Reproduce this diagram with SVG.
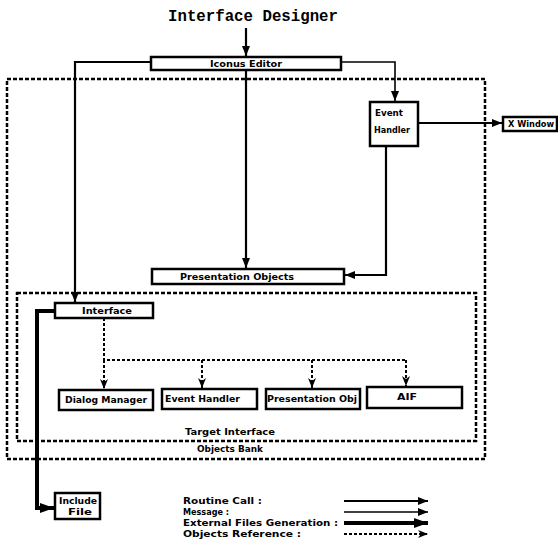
<svg xmlns="http://www.w3.org/2000/svg" width="558" height="553" viewBox="0 0 558 553">
<style>
.box{fill:#fff;stroke:#000;stroke-width:2.5}
.dash{fill:none;stroke:#000;stroke-width:2.5;stroke-dasharray:4 2}
.lbl{font-family:"DejaVu Sans",sans-serif;font-weight:bold;font-size:8px;fill:#000}
.title{font-family:"Liberation Mono","DejaVu Sans Mono",monospace;font-weight:bold;font-size:16px;fill:#000}
.call{fill:none;stroke:#000;stroke-width:2.2}
.msg{fill:none;stroke:#000;stroke-width:1.6}
.ext{fill:none;stroke:#000;stroke-width:4}
.ref{fill:none;stroke:#000;stroke-width:2;stroke-dasharray:3 2}
</style>
<defs>
<marker id="ah" markerWidth="10" markerHeight="8" refX="10" refY="4" orient="auto" markerUnits="userSpaceOnUse">
<path d="M0,0 L10,4 L0,8 Z" fill="#000"/>
</marker>
<marker id="ahBig" markerWidth="14" markerHeight="10" refX="14" refY="5" orient="auto" markerUnits="userSpaceOnUse">
<path d="M0,0 L14,5 L0,10 Z" fill="#000"/>
</marker>
<marker id="ahRef" markerWidth="10" markerHeight="8" refX="10" refY="4" orient="auto" markerUnits="userSpaceOnUse">
<path d="M0,0 L10,4 L0,8 L3,4 Z" fill="#000"/>
</marker>
</defs>

<text class="title" x="253" y="21" text-anchor="middle" textLength="170" lengthAdjust="spacingAndGlyphs">Interface Designer</text>

<g id="objects-bank">
<rect class="dash" x="7" y="79" width="478" height="380"/>
<text class="lbl" x="230" y="452" text-anchor="middle" textLength="66" lengthAdjust="spacingAndGlyphs">Objects Bank</text>
</g>
<g id="target-interface">
<rect class="dash" x="17" y="293" width="459" height="148"/>
<text class="lbl" x="230" y="435" text-anchor="middle" textLength="90" lengthAdjust="spacingAndGlyphs">Target Interface</text>
</g>

<g id="connectors">
<path class="call" d="M246,28 V56" marker-end="url(#ah)"/>
<path class="call" d="M151,62 H75 V302" marker-end="url(#ah)"/>
<path class="call" d="M246,70 V268" marker-end="url(#ah)"/>
<path class="msg" d="M341,62 H395 V101" marker-end="url(#ah)"/>
<path class="call" d="M418,123 H502" marker-end="url(#ah)"/>
<path class="call" d="M386,146 V275 H345" marker-end="url(#ah)"/>
<path class="ext" d="M55,311 H37 V508 H54" marker-end="url(#ahBig)"/>
<path class="ref" d="M104,318 V360 H406"/>
<path class="ref" d="M104,360 V389" marker-end="url(#ahRef)"/>
<path class="ref" d="M202,360 V388" marker-end="url(#ahRef)"/>
<path class="ref" d="M312,360 V388" marker-end="url(#ahRef)"/>
<path class="ref" d="M406,360 V386" marker-end="url(#ahRef)"/>
</g>

<g id="iconus-editor">
<rect class="box" x="151" y="57" width="190" height="13"/>
<text class="lbl" x="246" y="66.5" text-anchor="middle" textLength="72" lengthAdjust="spacingAndGlyphs">Iconus Editor</text>
</g>
<g id="event-handler-top">
<rect class="box" x="370" y="102" width="48" height="44"/>
<text class="lbl" x="375" y="116" textLength="28" lengthAdjust="spacingAndGlyphs">Event</text>
<text class="lbl" x="374" y="133" textLength="36" lengthAdjust="spacingAndGlyphs">Handler</text>
</g>
<g id="x-window">
<rect class="box" x="503" y="117" width="54" height="14"/>
<text class="lbl" x="508" y="127" textLength="46" lengthAdjust="spacingAndGlyphs">X Window</text>
</g>
<g id="presentation-objects">
<rect class="box" x="152" y="269" width="192" height="15"/>
<text class="lbl" x="237" y="279.5" text-anchor="middle" textLength="114" lengthAdjust="spacingAndGlyphs">Presentation Objects</text>
</g>
<g id="interface">
<rect class="box" x="55" y="303" width="98" height="15"/>
<text class="lbl" x="107" y="313.5" text-anchor="middle" textLength="50" lengthAdjust="spacingAndGlyphs">Interface</text>
</g>
<g id="dialog-manager">
<rect class="box" x="59" y="390" width="94" height="20"/>
<text class="lbl" x="106" y="403" text-anchor="middle" textLength="82" lengthAdjust="spacingAndGlyphs">Dialog Manager</text>
</g>
<g id="event-handler">
<rect class="box" x="162" y="389" width="95" height="20"/>
<text class="lbl" x="165" y="402" textLength="75" lengthAdjust="spacingAndGlyphs">Event Handler</text>
</g>
<g id="presentation-obj">
<rect class="box" x="266" y="389" width="94" height="20"/>
<text class="lbl" x="267" y="402" textLength="90" lengthAdjust="spacingAndGlyphs">Presentation Obj</text>
</g>
<g id="aif">
<rect class="box" x="367" y="387" width="95" height="21"/>
<text class="lbl" x="407" y="400" text-anchor="middle" textLength="20" lengthAdjust="spacingAndGlyphs">AIF</text>
</g>
<g id="include-file">
<rect class="box" x="55" y="493" width="45" height="26"/>
<text class="lbl" x="78" y="504" text-anchor="middle" textLength="38" lengthAdjust="spacingAndGlyphs">Include</text>
<text class="lbl" x="80" y="515" text-anchor="middle" textLength="24" lengthAdjust="spacingAndGlyphs">File</text>
</g>

<g id="legend">
<text class="lbl" x="183" y="504" textLength="79" lengthAdjust="spacingAndGlyphs">Routine Call :</text>
<text class="lbl" x="183" y="515" textLength="46" lengthAdjust="spacingAndGlyphs">Message :</text>
<text class="lbl" x="183" y="526" textLength="155" lengthAdjust="spacingAndGlyphs">External Files Generation :</text>
<text class="lbl" x="183" y="537" textLength="118" lengthAdjust="spacingAndGlyphs">Objects Reference :</text>
<path class="call" d="M344,501 H428" marker-end="url(#ah)"/>
<path class="msg" d="M344,512 H428" marker-end="url(#ah)"/>
<path class="ext" d="M344,523 H428" marker-end="url(#ahBig)"/>
<path class="ref" d="M344,534 H428" marker-end="url(#ahRef)"/>
</g>
</svg>
